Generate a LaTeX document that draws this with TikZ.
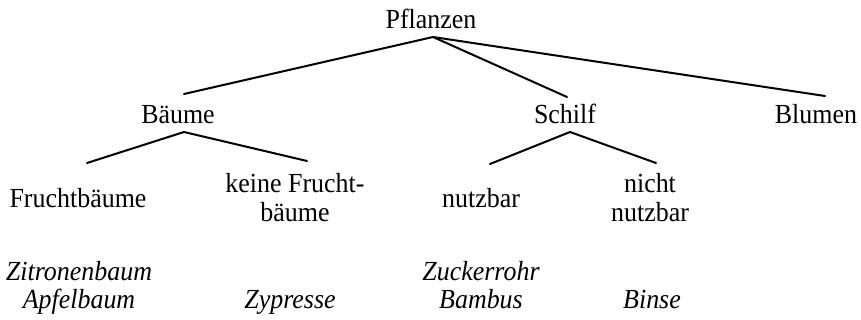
\documentclass[tikz,border=0pt]{standalone}
\usepackage{fontspec}
\setmainfont{Liberation Serif}[FakeStretch=0.94]
\usetikzlibrary{calc}
\begin{document}
\begin{tikzpicture}[x=1pt,y=-1pt,
  lbl/.style={inner sep=0pt,anchor=base,align=center,font=\fontsize{27.6}{29}\selectfont},
  ex/.style={lbl,font=\fontsize{27.6}{28}\selectfont\itshape},
  edge/.style={line width=2pt,line cap=round}]
\useasboundingbox (0,0) rectangle (861,320);
\node[lbl] (pflanzen) at (431,29) {Pflanzen};
\node[lbl] (baeume) at (178,124) {Bäume};
\node[lbl] (schilf) at (565,124) {Schilf};
\node[lbl] (blumen) at (816,124) {Blumen};
\node[lbl] (frucht) at (78,208) {Fruchtbäume};
\node[lbl] (keine) at (295,222) {keine Frucht-\\bäume};
\node[lbl] (nutz) at (481,208) {nutzbar};
\node[lbl] (nicht) at (650,222) {nicht\\nutzbar};
\node[ex] (zitronen) at (79,308) {Zitronenbaum\\Apfelbaum};
\node[ex] (zypresse) at (290,308) {Zypresse};
\node[ex] (zucker) at (481,308) {Zuckerrohr\\Bambus};
\node[ex] (binse) at (652,308) {Binse};
\coordinate (pa) at ($(pflanzen.base)+(2,8)$);
\coordinate (ba) at ($(baeume.base)+(6,8)$);
\coordinate (sa) at ($(schilf.base)+(5,8)$);
\draw[edge] (pa) -- ($(baeume.base)+(6,-30)$);
\draw[edge] (pa) -- ($(schilf.base)+(2,-27)$);
\draw[edge] (pa) -- ($(blumen.base)+(9,-28)$);
\draw[edge] (ba) -- ($(frucht.base)+(9,-45)$);
\draw[edge] (ba) -- ($(keine.base)+(12,-61)$);
\draw[edge] (sa) -- ($(nutz.base)+(9,-44)$);
\draw[edge] (sa) -- ($(nicht.base)+(6,-59)$);
\end{tikzpicture}
\end{document}
